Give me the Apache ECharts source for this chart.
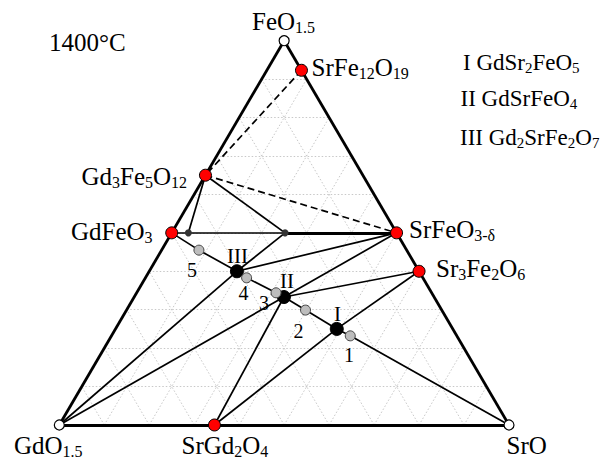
<!DOCTYPE html>
<html><head><meta charset="utf-8">
<script src="https://cdn.jsdelivr.net/npm/echarts@6/dist/echarts.min.js"></script>
<style>html,body{margin:0;padding:0;background:#fff}#c{width:611px;height:459px}</style>
</head><body><div id="c"></div>
<script>
// Compositions as mole fractions [FeO1.5, GdO1.5, SrO]
const vertexNames = ['FeO1.5', 'GdO1.5', 'SrO'];
const vertexComp = [[1, 0, 0], [0, 1, 0], [0, 0, 1]];
const compoundNames = ['SrFe12O19', 'Gd3Fe5O12', 'GdFeO3', 'SrFeO3-δ', 'Sr3Fe2O6', 'SrGd2O4'];
const compoundComp = [[0.923, 0, 0.077], [0.65, 0.35, 0], [0.5, 0.5, 0], [0.5, 0, 0.5], [0.4, 0, 0.6], [0, 0.655, 0.345]];
const phaseNames = ['I', 'II', 'III'];
const phaseComp = [[0.25, 0.258, 0.492], [0.333, 0.334, 0.333], [0.4, 0.405, 0.195]];
const sampleNames = ['1', '2', '3', '4', '5'];
const sampleComp = [[0.232, 0.237, 0.531], [0.299, 0.303, 0.398], [0.344, 0.346, 0.31], [0.383, 0.392, 0.225], [0.455, 0.462, 0.083]];
const boundaryNames = ['b1', 'b2'];
const boundaryComp = [[0.5, 0.463, 0.037], [0.5, 0.248, 0.252]];
const gridTicks = [0.1, 0.2, 0.3, 0.4, 0.5, 0.6, 0.7, 0.8, 0.9];
const legendItems = ['I GdSr2FeO5', 'II GdSrFeO4', 'III Gd2SrFe2O7'];
const temperatureLabel = '1400°C';
// tie lines between named phases
const edgeLines = [['FeO1.5', 'GdO1.5'], ['FeO1.5', 'SrO'], ['GdO1.5', 'SrO'], ['b2', 'SrFeO3-δ']];
const tieLines = [
  ['GdFeO3', 'b2'], ['Gd3Fe5O12', 'b1'], ['Gd3Fe5O12', 'b2'], ['b2', 'III'],
  ['GdFeO3', '5'], ['5', 'III'], ['III', '4'], ['4', '3'], ['3', 'II'], ['II', '2'], ['2', 'I'], ['I', '1'], ['1', 'SrO'],
  ['III', 'SrFeO3-δ'], ['II', 'SrFeO3-δ'], ['II', 'Sr3Fe2O6'], ['I', 'Sr3Fe2O6'],
  ['GdO1.5', 'III'], ['GdO1.5', 'II'], ['SrGd2O4', 'II'], ['SrGd2O4', 'I']
];
const dashedLines = [['SrFe12O19', 'Gd3Fe5O12'], ['Gd3Fe5O12', 'SrFeO3-δ']];

const comp = {};
[[vertexNames, vertexComp], [compoundNames, compoundComp], [phaseNames, phaseComp], [sampleNames, sampleComp], [boundaryNames, boundaryComp]]
  .forEach(([n, c]) => n.forEach((k, i) => comp[k] = c[i]));
const toXY = c => [c[2] + c[0] / 2, c[0]];
const P = name => toXY(comp[name]);

const gridSegs = [];
gridTicks.forEach(t => {
  gridSegs.push({coords: [toXY([t, 1 - t, 0]), toXY([t, 0, 1 - t])]});
  gridSegs.push({coords: [toXY([0, 1 - t, t]), toXY([1 - t, 0, t])]});
  gridSegs.push({coords: [toXY([0, t, 1 - t]), toXY([1 - t, t, 0])]});
});
const segs = arr => arr.map(([a, b]) => ({coords: [P(a), P(b)]}));

const FONT = "'Liberation Serif','Times New Roman',serif";
function formula(s) {
  let r = '{m|' + s.replace(/([0-9.]+(?:-δ)?)(?=[A-Z]|$)/g, (m, g, off) => (off > 0 && /[A-Za-z]/.test(s[off - 1])) ? '}{s|' + g + '}{m|' : g) + '}';
  return r.replace(/\{m\|\}/g, '');
}
function richFor(main, sub, pad) {
  return {
    m: {fontFamily: FONT, fontSize: main, fill: '#000', verticalAlign: 'middle'},
    s: {fontFamily: FONT, fontSize: sub, fill: '#000', verticalAlign: 'middle', padding: [pad, 0, 0, 0]}
  };
}
function ftext(str, x, y, main, sub, align) {
  return {type: 'text', x: x, y: y, silent: true, z: 10,
    style: {text: formula(str), align: align || 'left', verticalAlign: 'middle', rich: richFor(main, sub, 12), fill: '#000'}};
}
function ptext(str, x, y, size, align) {
  return {type: 'text', x: x, y: y, silent: true, z: 10,
    style: {text: str, align: align || 'center', verticalAlign: 'middle', font: size + 'px ' + FONT, fill: '#000'}};
}

const graphics = [
  ptext(temperatureLabel, 49, 42.5, 25, 'left'),
  ftext(vertexNames[0], 252, 21, 25, 16),
  ftext(vertexNames[1], 14, 445.5, 25, 16),
  ftext(vertexNames[2], 506.5, 445.5, 25, 16),
  ftext(compoundNames[0], 311.5, 67, 25, 16),
  ftext(compoundNames[1], 81.5, 176.5, 25, 16),
  ftext(compoundNames[2], 71, 231, 25, 16),
  ftext(compoundNames[3], 409, 229, 25, 16),
  ftext(compoundNames[4], 436, 268, 25, 16),
  ftext(compoundNames[5], 181.5, 445.5, 25, 16),
  ftext(legendItems[0], 463, 62, 23, 15),
  ftext(legendItems[1], 460.5, 98, 23, 15),
  ftext(legendItems[2], 460, 137, 23, 15),
  ptext(phaseNames[2], 237.5, 256, 21),
  ptext(phaseNames[1], 287, 281, 21),
  ptext(phaseNames[0], 337.5, 314, 21),
  ptext(sampleNames[4], 192, 270, 20),
  ptext(sampleNames[3], 243.5, 293, 20),
  ptext(sampleNames[2], 264, 303, 20),
  ptext(sampleNames[1], 298.5, 330.5, 20),
  ptext(sampleNames[0], 349, 355, 20)
];

const lineBase = {type: 'lines', coordinateSystem: 'cartesian2d', clip: false, silent: true, polyline: false, animation: false};
const scat = (names, size, color, border, bw, z) => ({
  type: 'scatter', clip: false, silent: true, z: z, symbol: 'circle', symbolSize: size,
  itemStyle: {color: color, borderColor: border, borderWidth: bw, opacity: 1},
  data: names.map(P)
});

const chart = echarts.init(document.getElementById('c'), null, {renderer: 'svg'});
chart.setOption({
  animation: false,
  backgroundColor: '#fff',
  grid: {left: 59.3, top: 40.7, width: 449.7, height: 384.3},
  xAxis: {type: 'value', min: 0, max: 1, show: false},
  yAxis: {type: 'value', min: 0, max: 1, show: false},
  series: [
    Object.assign({}, lineBase, {z: 1, data: gridSegs, lineStyle: {color: '#c8c8c8', width: 1, type: [1.5, 2], opacity: 1}}),
    Object.assign({}, lineBase, {z: 2, data: segs(tieLines), lineStyle: {color: '#000', width: 1.7, opacity: 1}}),
    Object.assign({}, lineBase, {z: 2, data: segs(dashedLines), lineStyle: {color: '#000', width: 1.7, type: [7, 4], opacity: 1}}),
    Object.assign({}, lineBase, {z: 2, data: segs(edgeLines), lineStyle: {color: '#000', width: 2.8, opacity: 1}}),
    scat(vertexNames, 10, '#fff', '#000', 1.2, 5),
    scat(compoundNames, 12, '#ff0000', '#000', 1, 5),
    scat(phaseNames, 13, '#000', '#000', 1, 5),
    scat(sampleNames, 10, '#bdbdbd', '#444', 1, 5),
    scat(boundaryNames, 7, '#333', '#333', 0, 5)
  ],
  graphic: graphics
});
</script></body></html>
